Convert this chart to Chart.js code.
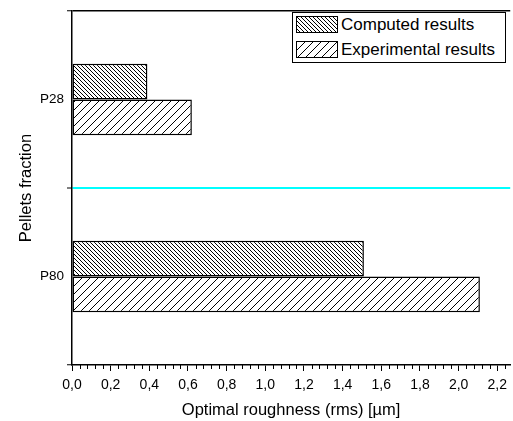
<!DOCTYPE html>
<html>
<head>
<meta charset="utf-8">
<script src="https://cdn.jsdelivr.net/npm/chart.js@4"></script>
<style>
  html, body { margin: 0; padding: 0; background: #fff; }
  #wrap { position: relative; width: 513px; height: 421px; }
  #legend { position: absolute; left: 292px; top: 12px; width: 212px; height: 49px;
    border: 1px solid #000; background: #fff; font-family: "Liberation Sans", Arial, sans-serif;
    font-size: 17px; color: #000; box-sizing: content-box; }
  .row { position: absolute; left: 3px; height: 17px; display: flex; align-items: center; white-space: nowrap; }
  .sw { width: 40px; height: 15px; border: 1px solid #000; margin-right: 3px; flex: none; }
  .sw1 { background: repeating-linear-gradient(45deg, #fff 0px, #fff 1.8px, #000 1.8px, #000 2.8px); }
  .sw2 { background: repeating-linear-gradient(-45deg, #fff 0px, #fff 4.6px, #000 4.6px, #000 5.6px); }
</style>
</head>
<body>
<div id="wrap">
  <canvas id="c" width="513" height="421"></canvas>
  <div id="legend">
    <div class="row" style="top:3px"><div class="sw sw1"></div><span>Computed results</span></div>
    <div class="row" style="top:28px"><div class="sw sw2"></div><span>Experimental results</span></div>
  </div>
</div>
<script>
const categories = ['P28', 'P80'];
const computedResults = [0.39, 1.51];
const experimentalResults = [0.62, 2.11];
const seriesNames = ['Computed results', 'Experimental results'];
const xMin = 0, xMax = 2.267, xStep = 0.2, xMinorStep = 0.04;

function hatch(spacing, dir) {
  const c = document.createElement('canvas');
  c.width = spacing; c.height = spacing;
  const g = c.getContext('2d');
  g.fillStyle = '#fff'; g.fillRect(0, 0, spacing, spacing);
  g.strokeStyle = '#000'; g.lineWidth = 1;
  g.beginPath();
  if (dir === 'back') {
    for (let k = -1; k <= 1; k++) { g.moveTo(k * spacing, 0); g.lineTo(k * spacing + spacing, spacing); }
  } else {
    for (let k = -1; k <= 1; k++) { g.moveTo(k * spacing, spacing); g.lineTo(k * spacing + spacing, 0); }
  }
  g.stroke();
  return g.createPattern(c, 'repeat');
}

const minorTicks = {
  id: 'minorTicks',
  afterDraw(chart) {
    const x = chart.scales.x, ctx = chart.ctx;
    const y0 = chart.chartArea.bottom;
    ctx.save();
    ctx.strokeStyle = '#000'; ctx.lineWidth = 1;
    ctx.beginPath();
    const n = Math.floor((xMax - xMin) / xMinorStep + 1e-9);
    for (let i = 0; i <= n; i++) {
      if (i % 5 === 0) continue;
      const px = Math.round(x.getPixelForValue(xMin + i * xMinorStep)) + 0.5;
      ctx.moveTo(px, y0); ctx.lineTo(px, y0 + 4);
    }
    ctx.stroke();
    ctx.restore();
  }
};

const FONT = '"Liberation Sans", Arial, sans-serif';

new Chart(document.getElementById('c'), {
  type: 'bar',
  data: {
    labels: categories,
    datasets: [
      { label: seriesNames[0], data: computedResults, backgroundColor: hatch(4, 'back'),
        borderColor: '#000', borderWidth: 1.5, borderSkipped: false },
      { label: seriesNames[1], data: experimentalResults, backgroundColor: hatch(8, 'fwd'),
        borderColor: '#000', borderWidth: 1.5, borderSkipped: false }
    ]
  },
  options: {
    indexAxis: 'y',
    responsive: false,
    animation: false,
    devicePixelRatio: 1,
    layout: { padding: { top: 8, right: 0, left: 0, bottom: 0 } },
    datasets: { bar: { categoryPercentage: 0.4045, barPercentage: 1 } },
    plugins: { legend: { display: false }, tooltip: { enabled: false } },
    scales: {
      x: {
        type: 'linear', min: xMin, max: xMax,
        afterFit(s) { s.height = 56; },
        ticks: { stepSize: xStep, includeBounds: false, padding: 6, color: '#000',
          font: { family: FONT, size: 14 },
          callback: v => v.toFixed(1).replace('.', ','), maxRotation: 0, autoSkip: false },
        grid: { drawOnChartArea: false, drawTicks: true, tickLength: 6, tickColor: '#000', tickWidth: 1 },
        border: { display: true, color: '#000', width: 1.5 },
        title: { display: true, text: 'Optimal roughness (rms) [µm]', color: '#000',
          font: { family: FONT, size: 16.5 }, padding: { top: 0, bottom: 1 } }
      },
      y: {
        type: 'category',
        offset: true,
        afterFit(s) { s.width = 72; },
        ticks: { color: '#000', padding: 3,
          font: { family: FONT, size: 13.5 } },
        grid: { offset: true, drawOnChartArea: true, drawTicks: true, tickLength: 5,
          tickColor: '#000', tickWidth: 1,
          color: ctx => ctx.index === 0 ? '#000' : (ctx.index === 1 ? '#00ffff' : 'rgba(0,0,0,0)'),
          lineWidth: ctx => ctx.index === 1 ? 2 : 1.5 },
        border: { display: true, color: '#000', width: 1.5 },
        title: { display: true, text: 'Pellets fraction', color: '#000',
          font: { family: FONT, size: 16.5 }, padding: { top: 17, bottom: 0 } }
      }
    }
  },
  plugins: [minorTicks]
});
</script>
</body>
</html>
